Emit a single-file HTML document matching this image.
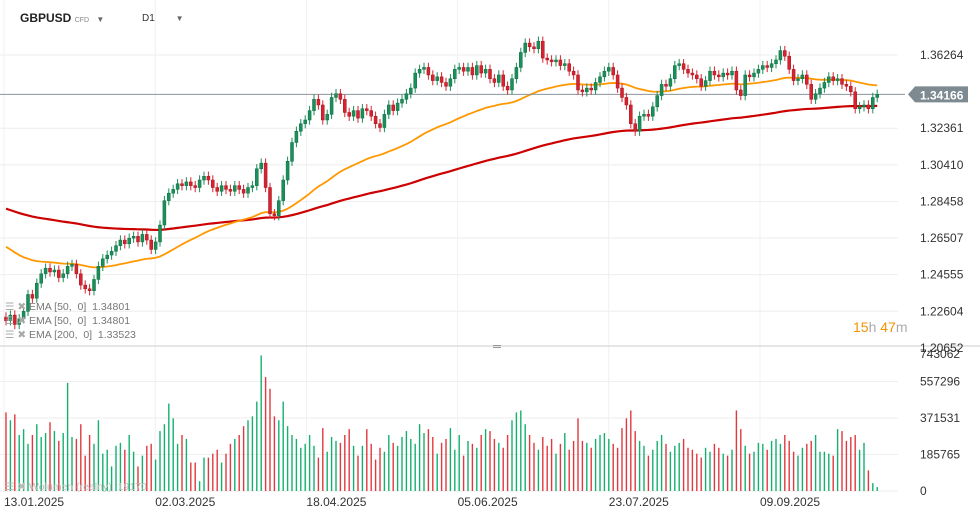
<!DOCTYPE html>
<html><head><meta charset="utf-8"><style>
body{margin:0;background:#fff;font-family:"Liberation Sans",sans-serif;}
#wrap{position:relative;width:980px;height:518px;overflow:hidden;}
svg text{font-family:"Liberation Sans",sans-serif;}
</style></head><body>
<div id="wrap">
<svg id="chart" width="980" height="518"></svg>
</div>
<script>
const startDateLabels = ["13.01.2025","02.03.2025","18.04.2025","05.06.2025","23.07.2025","09.09.2025"];
const priceTicks = [1.36264,1.32361,1.30410,1.28458,1.26507,1.24555,1.22604,1.20652];
const volumeTicks = [743062,557296,371531,185765,0];
const closes = [1.221,1.224,1.219,1.222,1.226,1.235,1.233,1.241,1.246,1.249,1.247,1.248,1.244,1.246,1.250,1.251,1.246,1.240,1.238,1.237,
1.243,1.250,1.254,1.256,1.258,1.261,1.264,1.262,1.265,1.266,1.263,1.267,1.264,1.259,1.263,1.272,1.285,1.289,1.291,1.294,
1.293,1.295,1.293,1.292,1.296,1.298,1.296,1.292,1.290,1.293,1.291,1.290,1.293,1.291,1.289,1.292,1.293,1.302,1.305,1.292,
1.278,1.277,1.285,1.296,1.306,1.316,1.322,1.326,1.328,1.333,1.339,1.336,1.328,1.331,1.340,1.342,1.339,1.332,1.330,1.333,
1.329,1.334,1.333,1.330,1.326,1.324,1.331,1.336,1.333,1.337,1.339,1.342,1.345,1.353,1.355,1.356,1.352,1.349,1.351,1.348,
1.346,1.350,1.355,1.356,1.354,1.356,1.352,1.357,1.353,1.355,1.350,1.348,1.352,1.346,1.344,1.350,1.356,1.364,1.369,1.367,
1.366,1.370,1.361,1.360,1.359,1.360,1.357,1.358,1.354,1.352,1.344,1.343,1.345,1.344,1.348,1.351,1.354,1.356,1.352,1.345,
1.340,1.336,1.326,1.322,1.330,1.331,1.330,1.335,1.341,1.347,1.346,1.350,1.357,1.358,1.355,1.353,1.352,1.350,1.346,1.349,
1.354,1.352,1.351,1.353,1.352,1.354,1.344,1.341,1.352,1.351,1.353,1.355,1.357,1.356,1.358,1.360,1.365,1.362,1.355,1.349,
1.350,1.352,1.347,1.339,1.342,1.345,1.348,1.351,1.349,1.350,1.347,1.346,1.343,1.334,1.335,1.336,1.334,1.340,1.3417];
const firstOpen = 1.223;
const volumesK = [400,360,390,285,315,240,285,340,275,295,350,305,255,295,550,275,265,340,180,285,
240,360,190,210,125,230,245,210,285,200,125,180,230,240,160,305,340,445,370,240,
285,265,145,145,50,170,170,190,210,145,190,240,265,285,330,360,380,455,690,580,
520,380,360,455,330,285,265,220,240,285,230,170,320,200,275,255,245,285,315,230,
180,230,315,240,160,220,200,285,245,230,275,305,265,240,340,295,315,275,190,245,
265,320,210,285,180,255,240,220,285,315,305,265,245,220,285,360,400,410,340,285,
245,210,275,230,265,190,240,295,210,255,370,255,245,220,265,285,295,265,240,220,
320,370,410,305,255,230,180,210,255,285,240,200,230,245,265,220,210,190,170,220,
200,240,220,190,180,210,410,315,230,190,200,245,240,210,255,265,240,285,255,200,
180,220,240,255,285,200,200,190,180,315,305,255,275,285,210,245,105,40,20];

const NS="http://www.w3.org/2000/svg";
const svg=document.getElementById('chart');
function mk(tag,attrs,parent){const e=document.createElementNS(NS,tag);for(const k in attrs)e.setAttribute(k,attrs[k]);(parent||svg).appendChild(e);return e;}
const yP=p=>55+(1.36264-p)*1876;
const yV=v=>491-v*36.5/185765;
const xI=i=>6+i*4.4;
const GREEN="#1a8f5a",RED="#d9222f";

const grid=mk('g',{});


priceTicks.forEach(t=>{if(t>1.21)mk('line',{x1:0,x2:898,y1:yP(t),y2:yP(t),stroke:"#eeeeee","stroke-width":1},grid);});
[557296,371531,185765,0].forEach(t=>mk('line',{x1:0,x2:898,y1:yV(t),y2:yV(t),stroke:"#eeeeee"},grid));
startDateLabels.forEach((d,k)=>{const x=4+k*151.2;mk('line',{x1:x,x2:x,y1:0,y2:493,stroke:"#f0f0f0"},grid);});
mk('line',{x1:0,x2:980,y1:346,y2:346,stroke:"#dddddd","stroke-width":1.5});

function ema(n,seed){const a=2/(n+1);let v=seed;return closes.map(c=>{v=v+a*(c-v);return v;});}
const ema200=ema(150,1.2815), ema50=ema(50,1.262);
const e200=mk('polyline',{points:ema200.map((v,i)=>xI(i)+","+yP(v)).join(" "),fill:"none",stroke:"#cc0000","stroke-width":2.2});


const e50=mk('polyline',{points:ema50.map((v,i)=>xI(i)+","+yP(v)).join(" "),fill:"none",stroke:"#ff9800","stroke-width":1.8});



mk('line',{x1:0,x2:905,y1:yP(1.34166),y2:yP(1.34166),stroke:"#8a959b","stroke-width":1});

const cg=mk('g',{});


closes.forEach((c,i)=>{
  const o=i===0?firstOpen:closes[i-1];
  const up=c>=o, col=up?GREEN:RED, x=xI(i);
  const hi=Math.max(o,c)+0.0025, lo=Math.min(o,c)-0.0025;
  const w=mk('line',{x1:x,x2:x,y1:yP(hi),y2:yP(lo),stroke:col,"stroke-width":1},cg);
  
  
  const top=yP(Math.max(o,c)),h=Math.max(1,yP(Math.min(o,c))-top);
  const b=mk('rect',{x:x-1.5,y:top,width:3,height:h,fill:col,stroke:up?"#0d6e42":"#a0141e","stroke-width":0.5},cg);
  
  
  const v=volumesK[i]*1000;
  const vb=mk('rect',{x:x-0.7,y:yV(v),width:1.4,height:491-yV(v),fill:up?"#13b06f":"#e0383e"});
  
  
});

priceTicks.forEach(t=>{const tx=mk('text',{x:920,y:yP(t)+4,"font-size":12,fill:"#333"});tx.textContent=t.toFixed(5);

});
volumeTicks.forEach(t=>{const tx=mk('text',{x:920,y:yV(t)+(t===743062?13:4),"font-size":12,fill:"#333"});tx.textContent=String(t);

});
startDateLabels.forEach((d,k)=>{const tx=mk('text',{x:4+k*151.2,y:506,"font-size":12,fill:"#333"});tx.textContent=d;

});

const tag=mk('g',{});


const yc=yP(1.34166);
mk('polygon',{points:`908,${yc} 915,${yc-8} 968,${yc-8} 968,${yc+8} 915,${yc+8}`,fill:"#7d8a91"},tag);
const pt=mk('text',{x:920,y:yc+5,"font-size":12,"font-weight":"bold",fill:"#fff"},tag);pt.textContent="1.34166";
</script>
<div style="position:absolute;left:20px;top:11px;font-size:12px;font-weight:bold;color:#222">GBPUSD <span style="font-size:7px;color:#888;font-weight:normal">CFD</span> <span style="font-size:8px;color:#666;margin-left:4px">▼</span></div>
<div style="position:absolute;left:142px;top:13px;font-size:10px;color:#333">D1 <span style="font-size:8px;color:#666;margin-left:18px">▼</span></div>
<div style="position:absolute;left:853px;top:319px;font-size:14px;color:#f39200">15<span style="color:#aaa">h</span> 47<span style="color:#aaa">m</span></div>
<div style="position:absolute;left:493px;top:345px;width:8px;height:1px;border-top:1px solid #999;border-bottom:1px solid #999"></div>
<div style="position:absolute;left:5px;top:300px;font-size:10.5px;color:#777;line-height:14px">
<div><span style="color:#aaa">☰ ✖</span> EMA [50,&nbsp; 0]&nbsp; 1.34801</div>
<div><span style="color:#aaa">☰ ✖</span> EMA [50,&nbsp; 0]&nbsp; 1.34801</div>
<div><span style="color:#aaa">☰ ✖</span> EMA [200,&nbsp; 0]&nbsp; 1.33523</div>
</div>
<div style="position:absolute;left:5px;top:481px;font-size:10.5px;color:#bbb"><span>☰ ✖</span> Wolumen (realny)&nbsp; 19170</div>
</body></html>
